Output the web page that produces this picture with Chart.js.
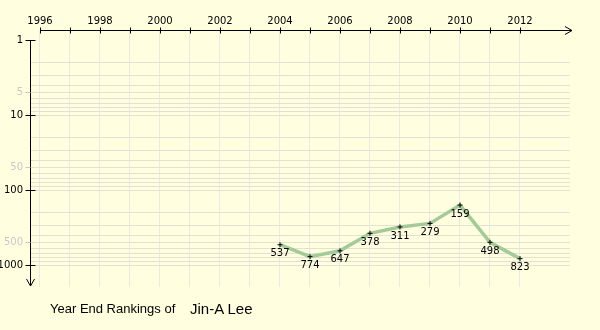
<!DOCTYPE html>
<html><head><meta charset="utf-8">
<script src="https://cdn.jsdelivr.net/npm/chart.js@4/dist/chart.umd.min.js"></script>
<style>
html,body{margin:0;padding:0;background:#ffffe0;}
#wrap{position:relative;width:600px;height:330px;overflow:hidden;background:#ffffe0;}
canvas{position:absolute;left:0;top:0;}
.t{position:absolute;font-family:"Liberation Sans",Arial,sans-serif;color:#000;line-height:1;white-space:nowrap;}
</style></head><body>
<div id="wrap"><canvas id="c" width="600" height="330"></canvas>
<span id="t1" class="t" style="left:50px;top:302px;font-size:13px"></span>
<span id="t2" class="t" style="left:190px;top:301px;font-size:15px"></span>
</div>
<script>
// ---- data ----
const years = [2004, 2005, 2006, 2007, 2008, 2009, 2010, 2011, 2012];
const rankings = [537, 774, 647, 378, 311, 279, 159, 498, 823];
const xTickYears = [1996,1997,1998,1999,2000,2001,2002,2003,2004,2005,2006,2007,2008,2009,2010,2011,2012];
const yGridValues = [1,2,3,4,5,6,7,8,9,10,20,30,40,50,60,70,80,90,100,200,300,400,500,600,700,800,900,1000];
const yMajorLabels = [1, 10, 100, 1000];
const yMinorLabels = [5, 50, 500];
const titlePrefix = "Year End Rankings of";
const playerName = "Jin-A Lee";

document.getElementById('t1').textContent = titlePrefix;
document.getElementById('t2').textContent = playerName;

const X_MIN = 1995 + 2/3, X_MAX = 2013 + 2/3;
const Y_MIN = Math.pow(10, -0.12), Y_MAX = Math.pow(10, 256/75 - 0.12);

const axesPlugin = {
  id: 'axesDraw',
  afterDraw(chart) {
    const {ctx, chartArea, scales: {x, y}} = chart;
    ctx.save();
    ctx.strokeStyle = '#000';
    ctx.lineWidth = 1;
    const ay = chartArea.top - 0.5;
    const xs = Math.round(x.getPixelForValue(xTickYears[0]));
    const xe = chartArea.right + 2;
    ctx.beginPath();
    ctx.moveTo(xs, ay); ctx.lineTo(xe, ay);
    ctx.moveTo(xe - 7, ay - 4); ctx.lineTo(xe, ay); ctx.lineTo(xe - 7, ay + 4);
    xTickYears.forEach(v => {
      const px = Math.round(x.getPixelForValue(v)) + 0.5;
      ctx.moveTo(px, ay - 3); ctx.lineTo(px, ay + 3);
    });
    const axx = chartArea.left + 0.5;
    const ys = Math.round(y.getPixelForValue(1));
    const ye = chartArea.bottom - 1;
    ctx.moveTo(axx, ys); ctx.lineTo(axx, ye);
    ctx.moveTo(axx - 4, ye - 7); ctx.lineTo(axx, ye); ctx.lineTo(axx + 4, ye - 7);
    yMajorLabels.forEach(v => {
      const py = Math.round(y.getPixelForValue(v)) + 0.5;
      ctx.moveTo(axx - 5, py); ctx.lineTo(axx + 5, py);
    });
    ctx.stroke();
    ctx.strokeStyle = '#c8c8c8';
    ctx.beginPath();
    yMinorLabels.forEach(v => {
      const py = Math.round(y.getPixelForValue(v)) + 0.5;
      ctx.moveTo(axx - 5, py); ctx.lineTo(axx, py);
    });
    ctx.stroke();
    ctx.restore();
  }
};

const valueLabels = {
  id: 'valueLabels',
  afterDatasetsDraw(chart) {
    const {ctx} = chart;
    const meta = chart.getDatasetMeta(0);
    ctx.save();
    ctx.fillStyle = '#000';
    ctx.font = '10px "DejaVu Sans"';
    ctx.textAlign = 'center';
    ctx.textBaseline = 'middle';
    meta.data.forEach((pt, i) => {
      ctx.fillText(String(rankings[i]), pt.x, pt.y + 9);
    });
    ctx.restore();
  }
};

new Chart(document.getElementById('c'), {
  type: 'line',
  data: {
    datasets: [{
      data: years.map((yr, i) => ({x: yr, y: rankings[i]})),
      borderColor: '#a3cb98',
      borderWidth: 3.5,
      tension: 0,
      fill: false,
      pointStyle: 'cross',
      pointRadius: 2.5,
      pointHoverRadius: 2.5,
      pointBorderColor: '#000',
      pointBorderWidth: 1
    }]
  },
  options: {
    responsive: false,
    animation: false,
    devicePixelRatio: 1,
    events: [],
    layout: {padding: {left: 0, top: 0, right: 30, bottom: 43}},
    plugins: {legend: {display: false}, tooltip: {enabled: false}, title: {display: false}},
    scales: {
      x: {
        type: 'linear', position: 'top', min: X_MIN, max: X_MAX,
        afterBuildTicks: s => { s.ticks = xTickYears.map(v => ({value: v})); },
        afterFit: s => { s.height = 31; },
        border: {display: false},
        grid: {color: '#eaeae4', drawTicks: false, lineWidth: 1},
        ticks: {
          autoSkip: false, maxRotation: 0, minRotation: 0, padding: 4, color: '#000',
          font: {family: 'DejaVu Sans', size: 10},
          callback: v => (v % 2 === 0 ? String(v) : '')
        }
      },
      y: {
        type: 'logarithmic', reverse: true, min: Y_MIN, max: Y_MAX,
        afterBuildTicks: s => { s.ticks = yGridValues.map(v => ({value: v})); },
        afterFit: s => { s.width = 30; },
        border: {display: false},
        grid: {color: c => (c.tick && c.tick.value === 1 ? 'rgba(0,0,0,0)' : '#e2e1d4'), drawTicks: false, lineWidth: 1},
        ticks: {
          autoSkip: false, padding: 7,
          color: c => (yMinorLabels.includes(c.tick.value) ? '#c8c8c8' : '#000'),
          font: {family: 'DejaVu Sans', size: 10},
          callback: v => (yMajorLabels.includes(v) || yMinorLabels.includes(v) ? String(v) : '')
        }
      }
    }
  },
  plugins: [axesPlugin, valueLabels]
});
</script>
</body></html>
